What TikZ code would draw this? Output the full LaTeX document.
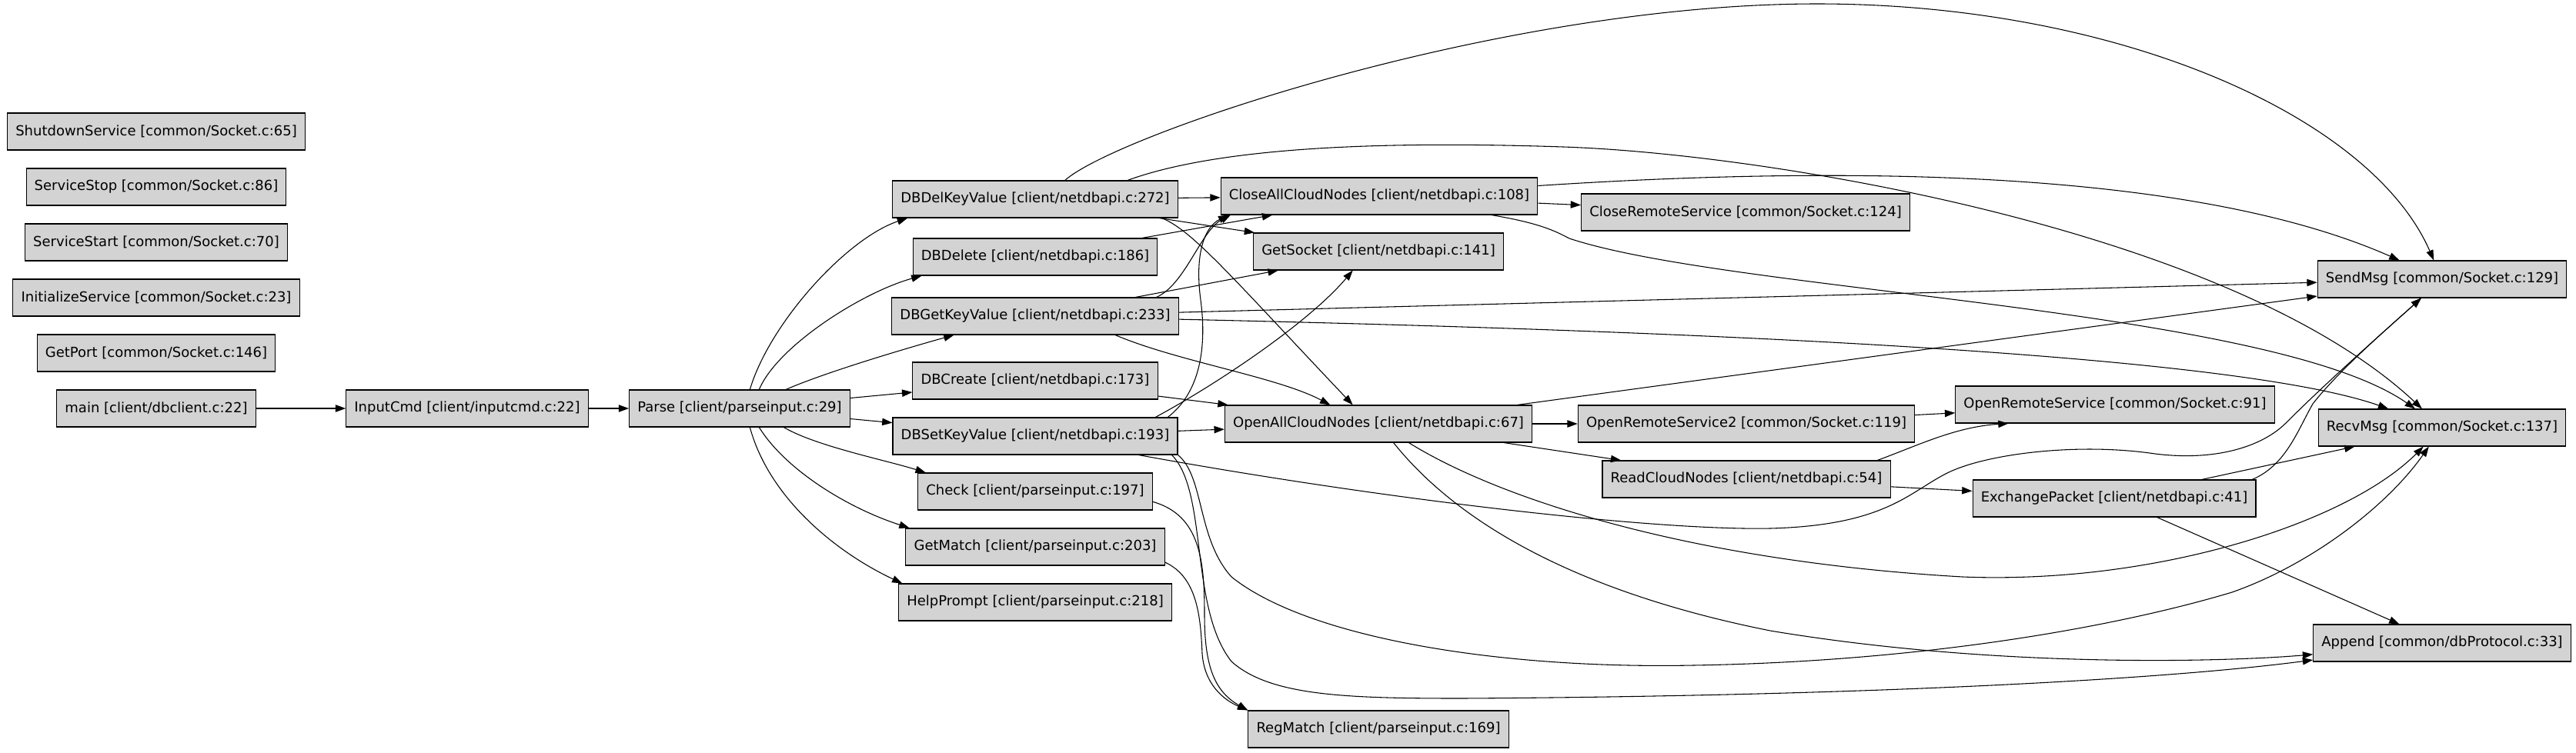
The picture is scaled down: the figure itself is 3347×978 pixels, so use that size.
\documentclass[tikz,border=0pt]{standalone}
\usepackage{fontspec}
\setmainfont{DejaVu Sans}
\usetikzlibrary{arrows.meta}
\definecolor{boxgray}{HTML}{D3D3D3}
\begin{document}
\begin{tikzpicture}[x=0.75pt,y=-0.75pt,
  fn/.style={draw=black,fill=boxgray,line width=0.8pt,minimum height=36pt,inner xsep=8pt,inner ysep=0pt,font=\fontsize{13.5}{16}\selectfont},
  call/.style={-{Triangle[length=10pt,width=7pt]},line width=0.8pt}]
\useasboundingbox (0,0) rectangle (3347,978);
% functions that nobody calls
\node[fn] (shutdown) at (203,171) {ShutdownService [common/Socket.c:65]};
\node[fn] (servstop) at (203,243) {ServiceStop [common/Socket.c:86]};
\node[fn] (servstart) at (203,315) {ServiceStart [common/Socket.c:70]};
\node[fn] (initserv) at (203,387) {InitializeService [common/Socket.c:23]};
\node[fn] (getport) at (203,459) {GetPort [common/Socket.c:146]};
% client side
\node[fn] (main) at (203,531) {main [client/dbclient.c:22]};
\node[fn] (inputcmd) at (607,531) {InputCmd [client/inputcmd.c:22]};
\node[fn] (parse) at (961,531) {Parse [client/parseinput.c:29]};
\node[fn] (dbdel) at (1345,259) {DBDelKeyValue [client/netdbapi.c:272]};
\node[fn] (dbdelete) at (1345,334) {DBDelete [client/netdbapi.c:186]};
\node[fn] (dbget) at (1345,411) {DBGetKeyValue [client/netdbapi.c:233]};
\node[fn] (dbcreate) at (1345,495) {DBCreate [client/netdbapi.c:173]};
\node[fn] (dbset) at (1345,567) {DBSetKeyValue [client/netdbapi.c:193]};
\node[fn] (check) at (1345,639) {Check [client/parseinput.c:197]};
\node[fn] (getmatch) at (1345,711) {GetMatch [client/parseinput.c:203]};
\node[fn] (helpprompt) at (1345,783) {HelpPrompt [client/parseinput.c:218]};
\node[fn] (closeall) at (1792,255) {CloseAllCloudNodes [client/netdbapi.c:108]};
\node[fn] (getsocket) at (1791,327) {GetSocket [client/netdbapi.c:141]};
\node[fn] (openall) at (1791,551) {OpenAllCloudNodes [client/netdbapi.c:67]};
\node[fn] (regmatch) at (1791,948) {RegMatch [client/parseinput.c:169]};
\node[fn] (closeremote) at (2268,276) {CloseRemoteService [common/Socket.c:124]};
\node[fn] (openremote2) at (2269,551) {OpenRemoteService2 [common/Socket.c:119]};
\node[fn] (readcloud) at (2269,623) {ReadCloudNodes [client/netdbapi.c:54]};
\node[fn] (openremote) at (2748,526) {OpenRemoteService [common/Socket.c:91]};
\node[fn] (exchange) at (2747,648) {ExchangePacket [client/netdbapi.c:41]};
\node[fn] (sendmsg) at (3173,363) {SendMsg [common/Socket.c:129]};
\node[fn] (recvmsg) at (3173,556) {RecvMsg [common/Socket.c:137]};
\node[fn] (append) at (3173,836) {Append [common/dbProtocol.c:33]};
% calls
\draw[call] (main) -- (inputcmd);
\draw[call] (inputcmd) -- (parse);
\draw[call] ([xshift=10pt]parse.north) .. controls (1000,420) and (1100,310) .. ([xshift=15pt]dbdel.south west);
\draw[call] ([xshift=19pt]parse.north) .. controls (1010,450) and (1120,380) .. ([xshift=9pt]dbdelete.south west);
\draw[call] ([xshift=45pt]parse.north) .. controls (1070,485) and (1170,455) .. ([xshift=61pt]dbget.south west);
\draw[call] (parse) -- (dbcreate);
\draw[call] (parse) -- (dbset);
\draw[call] ([xshift=43pt]parse.south) .. controls (1060,580) and (1150,598) .. ([xshift=8pt]check.north west);
\draw[call] ([xshift=19pt]parse.south) .. controls (1020,610) and (1100,660) .. ([xshift=4pt]getmatch.north west);
\draw[call] ([xshift=10pt]parse.south) .. controls (1000,650) and (1090,720) .. ([xshift=4pt]helpprompt.north west);
% DBDelKeyValue
\draw[call] (dbdel) -- (closeall);
\draw[call] (dbdel) -- (getsocket);
\draw[call] ([xshift=-16pt]dbdel.south east) .. controls (1550,300) and (1600,360) .. ([xshift=-25pt]openall.north);
\draw[call] ([xshift=29pt]dbdel.north) .. controls (1450,175) and (1950,5) .. (2361,5) .. controls (2750,5) and (3080,150) .. (sendmsg);
\draw[call] ([xshift=90pt]dbdel.north) .. controls (1600,185) and (1850,185) .. (2031,191) .. controls (2300,200) and (2900,300) .. (recvmsg);
% DBDelete
\draw[call] (dbdelete) -- (closeall);
% DBGetKeyValue
\draw[call] ([xshift=-22pt]dbget.north east) .. controls (1540,370) and (1560,300) .. ([xshift=10pt]closeall.south west);
\draw[call] (dbget) -- (getsocket);
\draw[call] (dbget) -- (sendmsg);
\draw[call] (dbget) .. controls (2200,430) and (2900,460) .. (recvmsg);
\draw[call] ([xshift=78pt]dbget.south) .. controls (1530,470) and (1660,490) .. ([xshift=-47pt]openall.north);
% DBCreate
\draw[call] (dbcreate) -- (openall);
% DBSetKeyValue
\draw[call] (dbset) -- (openall);
\draw[call] ([xshift=-10pt]dbset.north east) .. controls (1560,510) and (1568,450) .. (1560,390) .. controls (1552,330) and (1565,295) .. ([xshift=8pt]closeall.south west);
\draw[call] ([xshift=-22pt]dbset.north east) .. controls (1580,500) and (1700,420) .. ([xshift=-25pt]getsocket.south);
\draw[call] (dbset) .. controls (1800,650) and (2150,690) .. (2300,687) .. controls (2450,683) and (2480,640) .. (2530,615) .. controls (2580,590) and (2700,575) .. (2800,590) .. controls (2880,600) and (2940,580) .. (2970,550) .. controls (3030,490) and (3110,420) .. (sendmsg);
\draw[call] (dbset.south east) .. controls (1565,620) and (1555,700) .. (1600,750) .. controls (1700,830) and (1950,870) .. (2200,865) .. controls (2500,860) and (2750,815) .. (2900,770) .. controls (3000,735) and (3100,660) .. (recvmsg);
\draw[call] ([xshift=-6pt]dbset.south east) .. controls (1570,640) and (1545,790) .. (1600,860) .. controls (1650,905) and (1750,908) .. (1900,908) .. controls (2400,905) and (2800,885) .. (append);
% parser helpers
\draw[call] ([yshift=-10pt]check.east) .. controls (1560,670) and (1565,730) .. (1565,800) .. controls (1565,870) and (1580,900) .. (regmatch.north west);
\draw[call] ([yshift=-15pt]getmatch.east) .. controls (1555,750) and (1560,800) .. (1562,850) .. controls (1565,890) and (1590,910) .. (regmatch.north west);
% CloseAllCloudNodes
\draw[call] (closeall) -- (closeremote);
\draw[call] (closeall) .. controls (2400,215) and (2850,220) .. (sendmsg);
\draw[call] (closeall) .. controls (2000,290) and (2020,300) .. (2039,310) .. controls (2250,380) and (2950,400) .. (recvmsg);
% OpenAllCloudNodes
\draw[call] (openall) -- (sendmsg);
\draw[call] (openall) -- (openremote2);
\draw[call] (openall) -- (readcloud);
\draw[call] (openall) .. controls (1950,650) and (2200,730) .. (2550,750) .. controls (2800,760) and (3050,680) .. (recvmsg);
\draw[call] (openall) .. controls (1870,650) and (2000,760) .. (2300,820) .. controls (2600,870) and (2900,860) .. (append);
\draw[call] (openremote2) -- (openremote);
% ReadCloudNodes and ExchangePacket
\draw[call] ([xshift=-13pt]readcloud.north east) .. controls (2490,580) and (2540,555) .. ([xshift=52pt]openremote.south west);
\draw[call] (readcloud) -- (exchange);
\draw[call] (exchange) -- (recvmsg);
\draw[call] ([xshift=-4pt]exchange.north east) .. controls (2970,605) and (2985,560) .. (3005,525) .. controls (3040,480) and (3110,420) .. (sendmsg);
\draw[call] (exchange) -- (append);
\end{tikzpicture}
\end{document}
